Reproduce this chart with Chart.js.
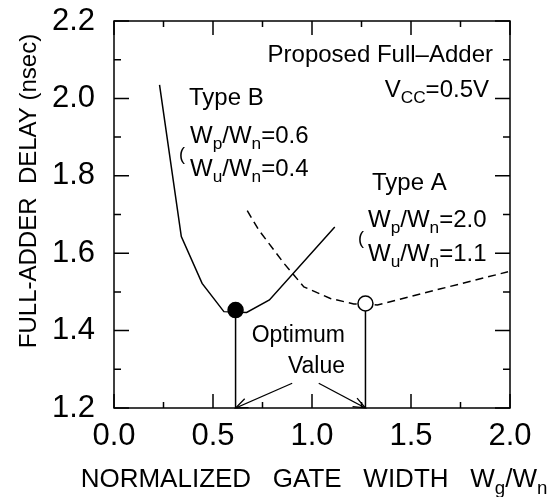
<!DOCTYPE html>
<html>
<head>
<meta charset="utf-8">
<script src="https://cdn.jsdelivr.net/npm/chart.js@4.4.0/dist/chart.umd.min.js"></script>
<style>
  html, body { margin: 0; padding: 0; background: #fff; }
</style>
</head>
<body>
<canvas id="chart" width="560" height="497"></canvas>
<script>
// values
var typeBx = [0.23, 0.34, 0.445, 0.555, 0.67, 0.785, 1.115]
var typeBy = [2.035, 1.643, 1.522, 1.449, 1.447, 1.479, 1.668]
var typeAx = [0.673, 0.731, 0.858, 0.959, 1.093, 1.211, 1.27, 1.33, 1.65, 1.99]
var typeAy = [1.710, 1.660, 1.574, 1.513, 1.483, 1.469, 1.469, 1.466, 1.508, 1.552]
var optB = [0.614, 1.453]
var optA = [1.27, 1.470]
var arrowStart = [[0.900, 1.264], [1.034, 1.264]]
var xTickLabels = [0.0, 0.5, 1.0, 1.5, 2.0]
var yTickLabels = [1.2, 1.4, 1.6, 1.8, 2.0, 2.2]

var FONT = '"Liberation Sans", Arial, Helvetica, sans-serif'

function pts(xs, ys) {
  return xs.map(function(x, i) { return {x: x, y: ys[i]} })
}

function isLabeled(list, v) {
  return list.some(function(t) { return Math.abs(t - v) < 1e-6 })
}

// text with subscripts: parts = [[text, isSub], ...]
function rich(ctx, parts, x, y, size, align) {
  var sub = size * 0.72
  var w = 0
  parts.forEach(function(p) {
    ctx.font = (p[1] ? sub : size) + 'px ' + FONT
    w += ctx.measureText(p[0]).width
  })
  var cx = align === 'right' ? x - w : (align === 'center' ? x - w / 2 : x)
  ctx.textAlign = 'left'
  ctx.textBaseline = 'alphabetic'
  parts.forEach(function(p) {
    ctx.font = (p[1] ? sub : size) + 'px ' + FONT
    ctx.fillText(p[0], cx, y + (p[1] ? size * 0.25 : 0))
    cx += ctx.measureText(p[0]).width
  })
}

var decor = {
  id: 'decor',
  afterDatasetsDraw: function(chart) {
    var ctx = chart.ctx
    ctx.save()
    ctx.strokeStyle = '#000'
    ctx.lineWidth = 1.3
    chart.data.datasets.forEach(function(ds, i) {
      if (!ds.arrow) return
      var d = chart.getDatasetMeta(i).data
      var a = d[d.length - 2], b = d[d.length - 1]
      var ang = Math.atan2(b.y - a.y, b.x - a.x)
      var L = 13, s = 0.38
      ctx.beginPath()
      ctx.moveTo(b.x - L * Math.cos(ang - s), b.y - L * Math.sin(ang - s))
      ctx.lineTo(b.x, b.y)
      ctx.lineTo(b.x - L * Math.cos(ang + s), b.y - L * Math.sin(ang + s))
      ctx.stroke()
    })
    ctx.restore()
  },
  afterDraw: function(chart) {
    var ctx = chart.ctx, a = chart.chartArea
    var sx = chart.scales.x, sy = chart.scales.y
    ctx.save()
    ctx.strokeStyle = '#000'
    ctx.lineWidth = 1.5
    ctx.strokeRect(a.left, a.top, a.right - a.left, a.bottom - a.top)
    ctx.beginPath()
    sx.ticks.forEach(function(t) {
      var p = sx.getPixelForValue(t.value), len = t.label ? 14 : 6
      ctx.moveTo(p, a.bottom); ctx.lineTo(p, a.bottom - len)
      ctx.moveTo(p, a.top); ctx.lineTo(p, a.top + len)
    })
    sy.ticks.forEach(function(t) {
      var p = sy.getPixelForValue(t.value), len = t.label ? 15 : 7
      ctx.moveTo(a.left, p); ctx.lineTo(a.left + len, p)
      ctx.moveTo(a.right, p); ctx.lineTo(a.right - len, p)
    })
    ctx.stroke()

    ctx.fillStyle = '#000'
    // axis titles
    rich(ctx, [['NORMALIZED   GATE   WIDTH   W', 0], ['g', 1], ['/W', 0], ['n', 1]], (a.left + a.right) / 2 + 2, 487, 26, 'center')
    ctx.save()
    ctx.translate(36, 191)
    ctx.rotate(-Math.PI / 2)
    rich(ctx, [['FULL-ADDER  DELAY (nsec)', 0]], 0, 0, 24, 'center')
    ctx.restore()

    // annotations
    rich(ctx, [['Proposed Full\u2013Adder', 0]], 493, 62, 24, 'right')
    rich(ctx, [['V', 0], ['CC', 1], ['=0.5V', 0]], 489, 97, 24, 'right')
    rich(ctx, [['Type B', 0]], 189, 105, 24, 'left')
    rich(ctx, [['W', 0], ['p', 1], ['/W', 0], ['n', 1], ['=0.6', 0]], 190, 143, 24, 'left')
    rich(ctx, [['W', 0], ['u', 1], ['/W', 0], ['n', 1], ['=0.4', 0]], 190, 176, 24, 'left')
    rich(ctx, [['(', 0]], 179, 160, 18, 'left')
    rich(ctx, [['Type A', 0]], 372, 190, 24, 'left')
    rich(ctx, [['W', 0], ['p', 1], ['/W', 0], ['n', 1], ['=2.0', 0]], 368, 227, 24, 'left')
    rich(ctx, [['W', 0], ['u', 1], ['/W', 0], ['n', 1], ['=1.1', 0]], 368, 261, 24, 'left')
    rich(ctx, [['(', 0]], 358, 244, 18, 'left')
    rich(ctx, [['Optimum', 0]], 345, 342, 23, 'right')
    rich(ctx, [['Value', 0]], 345, 373, 23, 'right')
    ctx.restore()
  }
}

var lineStyle = { borderColor: '#000', borderWidth: 1.5, pointRadius: 0, showLine: true, fill: false }

new Chart(document.getElementById('chart'), {
  type: 'scatter',
  data: {
    datasets: [
      { data: [{x: optB[0], y: optB[1]}], pointRadius: 7.5, pointBackgroundColor: '#000', pointBorderColor: '#000', pointBorderWidth: 1.5, showLine: false },
      { data: [{x: optA[0], y: optA[1]}], pointRadius: 7.5, pointBackgroundColor: '#fff', pointBorderColor: '#000', pointBorderWidth: 1.5, showLine: false },
      Object.assign({ data: pts(typeBx, typeBy) }, lineStyle),
      Object.assign({ data: pts(typeAx, typeAy), borderDash: [8, 5] }, lineStyle),
      Object.assign({ data: [{x: optB[0], y: optB[1]}, {x: optB[0], y: 1.2}] }, lineStyle),
      Object.assign({ data: [{x: optA[0], y: optA[1]}, {x: optA[0], y: 1.2}] }, lineStyle),
      Object.assign({ data: [{x: arrowStart[0][0], y: arrowStart[0][1]}, {x: optB[0], y: 1.2}], arrow: true }, lineStyle, { borderWidth: 1.3 }),
      Object.assign({ data: [{x: arrowStart[1][0], y: arrowStart[1][1]}, {x: optA[0], y: 1.2}], arrow: true }, lineStyle, { borderWidth: 1.3 })
    ]
  },
  options: {
    responsive: false,
    animation: false,
    layout: { padding: { left: 10, right: 50, top: 21, bottom: 10 } },
    plugins: { legend: { display: false }, tooltip: { enabled: false } },
    scales: {
      x: {
        type: 'linear', min: 0, max: 2,
        afterFit: function(s) { s.height = 79; s.paddingLeft = 0; s.paddingRight = 0 },
        grid: { display: false }, border: { display: false },
        ticks: {
          stepSize: 0.25, autoSkip: false, maxRotation: 0, padding: 2, color: '#000',
          font: { family: FONT, size: 31 },
          callback: function(v) { return isLabeled(xTickLabels, v) ? v.toFixed(1) : '' }
        }
      },
      y: {
        type: 'linear', min: 1.2, max: 2.2,
        afterFit: function(s) { s.width = 104; s.paddingTop = 0; s.paddingBottom = 0 },
        grid: { display: false }, border: { display: false },
        ticks: {
          stepSize: 0.1, autoSkip: false, padding: 11, color: '#000',
          font: { family: FONT, size: 31 },
          callback: function(v) { return isLabeled(yTickLabels, v) ? v.toFixed(1) : '' }
        }
      }
    }
  },
  plugins: [decor]
})
</script>
</body>
</html>
